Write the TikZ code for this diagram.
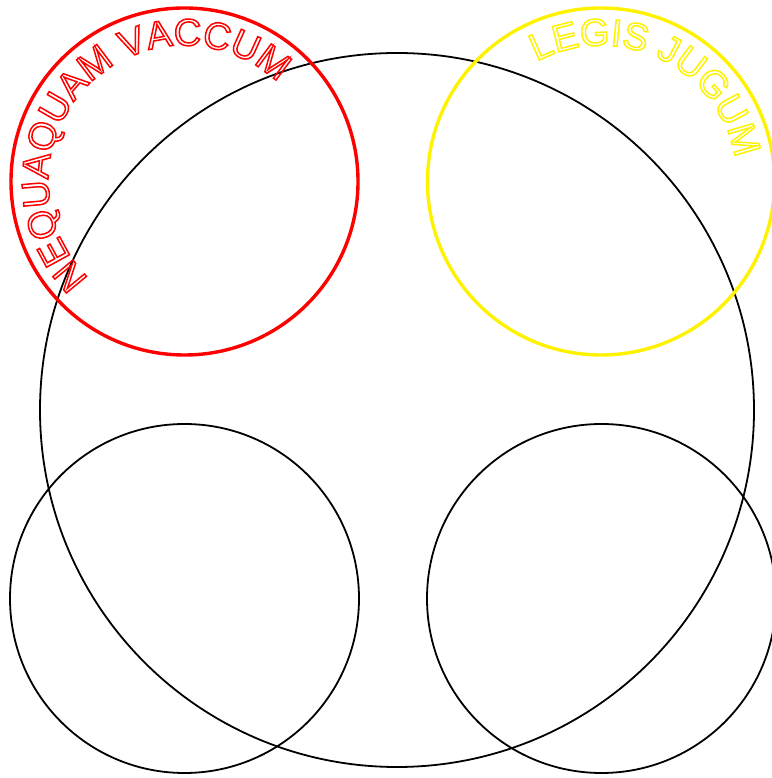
\documentclass[tikz,border=0pt]{standalone}
\usepackage{fontspec}
\setmainfont{Liberation Sans}
\usetikzlibrary{decorations.text}
\newcommand{\hollowtext}{\fontsize{38}{42}\selectfont\special{pdf:literal direct 1 Tr 1.5 w}}

\begin{document}
\begin{tikzpicture}[x=1pt, y=1pt,
    ring/.style={draw=black, line width=1.8pt},
    seal/.style={line width=3.4pt}]
    \useasboundingbox (0,0) rectangle (771,778);

    \coordinate (bigc) at (397,368);
    \coordinate (redc) at (184.5,596.5);
    \coordinate (yelc) at (601,596.5);
    \coordinate (blc)  at (184.5,179.5);
    \coordinate (brc)  at (601.5,179.5);

    \draw[ring] (bigc) circle[radius=357];
    \draw[ring] (blc) circle[radius=174.5];
    \draw[ring] (brc) circle[radius=174.5];
    \draw[seal, red]    (redc) circle[radius=173.5];
    \draw[seal, yellow] (yelc) circle[radius=173.5];

    % lettering round the two upper circles
    \path[decorate, decoration={text along path, text align=center, text color=red,
        text={|\hollowtext|NEQUAQUAM VACCUM}}]
        (redc) ++(262:136) arc[start angle=262, end angle=10, radius=136];
    \path[decorate, decoration={text along path, text align=center, text color=yellow,
        text={|\hollowtext|LEGIS JUGUM}}]
        (yelc) ++(154:136) arc[start angle=154, end angle=-26, radius=136];
\end{tikzpicture}
\end{document}
